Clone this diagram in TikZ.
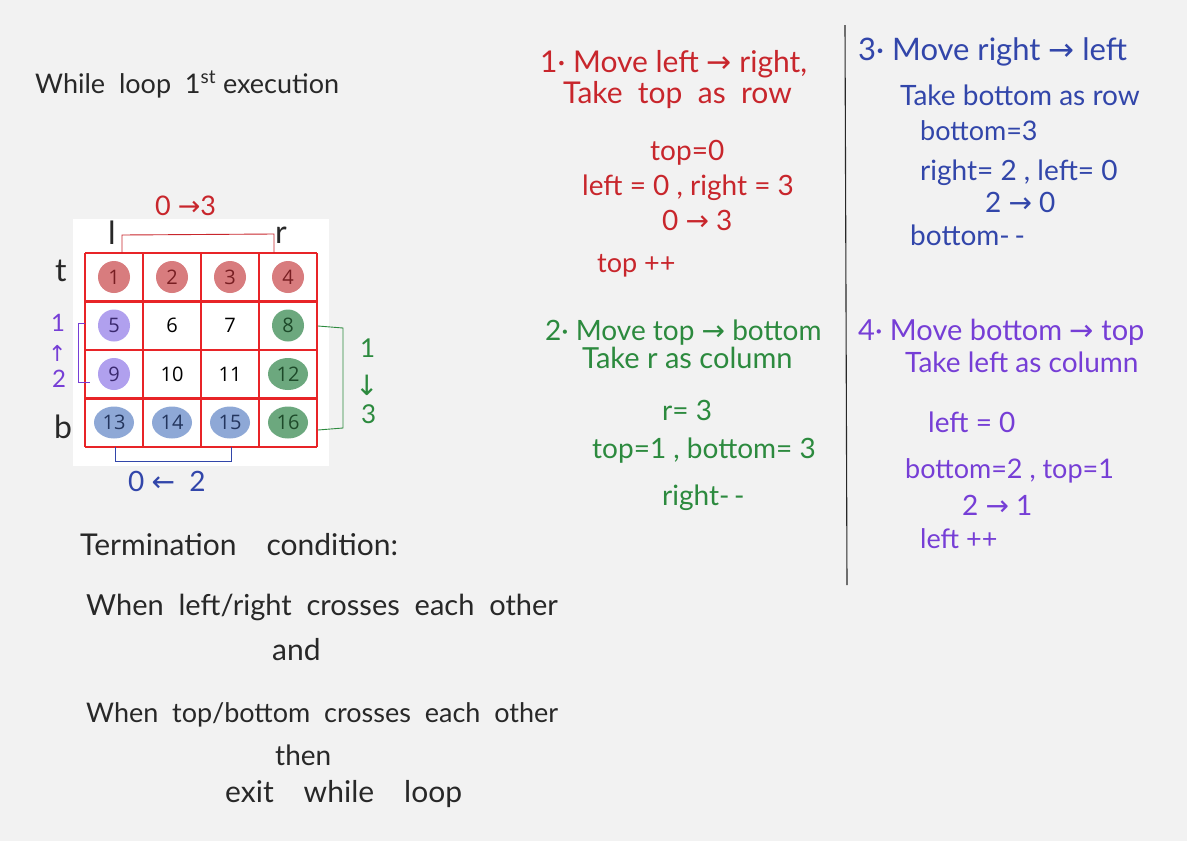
\documentclass[tikz,border=0pt]{standalone}
\usepackage{fontspec}
\setmainfont{Lato}
\newfontfamily\cellfont{Open Sans}
\newfontfamily\arrowfont{DejaVu Sans}
\newcommand{\ra}{{\arrowfont →}}
\newcommand{\la}{{\arrowfont ←}}
\usetikzlibrary{arrows.meta,calc,positioning}
\definecolor{PaperGray}{RGB}{242,242,242}
\definecolor{InkBlack}{RGB}{40,40,40}
\definecolor{InkRed}{RGB}{200,38,44}
\definecolor{InkGreen}{RGB}{44,138,62}
\definecolor{InkBlue}{RGB}{50,70,170}
\definecolor{InkPurple}{RGB}{118,62,214}
\definecolor{GridRed}{RGB}{232,36,40}
\definecolor{BlobRed}{RGB}{216,124,126}
\definecolor{BlobPurple}{RGB}{176,160,238}
\definecolor{BlobGreen}{RGB}{108,168,126}
\definecolor{BlobBlue}{RGB}{142,168,214}
\definecolor{NumRed}{RGB}{120,30,34}
\definecolor{NumPurple}{RGB}{58,40,110}
\definecolor{NumGreen}{RGB}{30,74,42}
\definecolor{NumBlue}{RGB}{36,54,94}

\tikzset{
	hand/.style={inner sep=0pt, anchor=base west, font=\fontsize{#1}{#1}\selectfont},
	hand/.default=28,
	cellnum/.style={inner sep=0pt, font=\cellfont\fontsize{20}{22}\selectfont},
	gridline/.style={GridRed, line width=2.2pt},
	bracket/.style={line width=0.9pt}
}

\begin{document}
\begin{tikzpicture}[x=1pt, y=-1pt]
	% papier
	\fill[PaperGray] (0,0) rectangle (1187,841);
	\useasboundingbox (0,0) rectangle (1187,841);
	% titel
	\node[hand=27, InkBlack] (title) at (35,93) {While\ \ loop\ \ 1\textsuperscript{st}\ execution};
	% matrix 4x4
	\fill[white] (73,219) rectangle (329,466);
	\foreach \n/\blob/\ink in {1/BlobRed/NumRed, 2/BlobRed/NumRed, 3/BlobRed/NumRed, 4/BlobRed/NumRed,
		5/BlobPurple/NumPurple, 6/white/black, 7/white/black, 8/BlobGreen/NumGreen,
		9/BlobPurple/NumPurple, 10/white/black, 11/white/black, 12/BlobGreen/NumGreen,
		13/BlobBlue/NumBlue, 14/BlobBlue/NumBlue, 15/BlobBlue/NumBlue, 16/BlobGreen/NumGreen}{
		\pgfmathtruncatemacro{\col}{mod(\n-1,4)}
		\pgfmathtruncatemacro{\row}{(\n-1)/4}
		\pgfmathsetmacro{\rx}{\n<10 ? 16 : 20}
		\coordinate (m\n) at ({114+58*\col},{277+48.5*\row});
		\fill[\blob] (m\n) ellipse [x radius=\rx pt, y radius=16pt];
		\node[cellnum, text=\ink] (n\n) at (m\n) {\n};
	}
	\foreach \i in {0,...,4}{
		\draw[gridline] ({85+58*\i},253) -- ({85+58*\i},447);
		\draw[gridline] (85,{253+48.5*\i}) -- (317,{253+48.5*\i});
	}
	% zeiger
	\node[hand=32, InkBlack] (tlab) at (55,281) {t};
	\node[hand=32, InkBlack] (blab) at (54,438) {b};
	\node[hand=32, InkBlack] (llab) at (108,244) {l};
	\node[hand=32, InkBlack] (rlab) at (275,243) {r};
	% oben: links nach rechts
	\coordinate (lEnd) at (122,253);
	\coordinate (lTop) at (122,235);
	\coordinate (rTop) at (274,234);
	\coordinate (rEnd) at (274,253);
	\draw[bracket, InkRed] (lEnd) -- (lTop) -- (rTop) -- (rEnd);
	\node[hand=27, InkRed] (topRange) at (155,215) {0 \ra3};
	% rechts: oben nach unten
	\coordinate (gTop) at (318,326);
	\coordinate (gTopR) at (343,328);
	\coordinate (gBotR) at (343,428);
	\coordinate (gBot) at (318,430);
	\draw[bracket, InkGreen] (gTop) -- (gTopR) -- (gBotR) -- (gBot);
	\node[hand=26, InkGreen] (gOne) at (360,357) {1};
	\node[hand=28, InkGreen] (gArr) at (355,395) {\arrowfont ↓};
	\node[hand=26, InkGreen] (gThree) at (361,423) {3};
	% unten: rechts nach links
	\coordinate (bL) at (115,447);
	\coordinate (bLB) at (115,461);
	\coordinate (bRB) at (231,461);
	\coordinate (bR) at (231,447);
	\draw[bracket, InkBlue] (bL) -- (bLB) -- (bRB) -- (bR);
	\node[hand, InkBlue] (botRange) at (128,491) {0\ \la\ \ 2};
	% links: unten nach oben
	\coordinate (pTop) at (85,323);
	\coordinate (pTopL) at (78,323);
	\coordinate (pBotL) at (78,382);
	\coordinate (pBot) at (90,382);
	\draw[bracket, InkPurple] (pTop) -- (pTopL) -- (pBotL) -- (pBot);
	\node[hand=24, InkPurple] (pOne) at (51,331) {1};
	\node[hand=22, InkPurple] (pArr) at (48,361) {\arrowfont ↑};
	\node[hand=24, InkPurple] (pTwo) at (52,387) {2};
	% abbruch
	\node[hand=30, InkBlack] (term) at (80,555) {Termination\quad condition:};
	\node[hand=29, InkBlack] (condA) at (86,615) {When\ \ left/right\ \ crosses\ \ each\ \ other};
	\node[hand=30, InkBlack] (condAnd) at (272,660) {and};
	\node[hand=27, InkBlack] (condB) at (86,722) {When\ \ top/bottom\ \ crosses\ \ each\ \ other};
	\node[hand=28, InkBlack] (condThen) at (275,765) {then};
	\node[hand=30, InkBlack] (condExit) at (225,802) {exit\quad while\quad loop};
	% schritt 1
	\node[hand=30, InkRed] (s1a) at (540,72) {1· Move\ left \ra\ right,};
	\node[hand=30, InkRed] (s1b) at (563,103) {Take\ \ top\ \ as\ \ row};
	\node[hand, InkRed] (s1c) at (650,160) {top=0};
	\node[hand, InkRed] (s1d) at (582,195) {left = 0 , right = 3};
	\node[hand, InkRed] (s1e) at (662,230) {0 \ra\ 3};
	\node[hand=27, InkRed] (s1f) at (597,272) {top ++};
	% schritt 2
	\node[hand=28, InkGreen] (s2a) at (545,340) {2· Move\ top \ra\ bottom};
	\node[hand=29, InkGreen] (s2b) at (582,368) {Take\ r\ as\ column};
	\node[hand, InkGreen] (s2c) at (662,420) {r= 3};
	\node[hand, InkGreen] (s2d) at (592,458) {top=1 , bottom= 3};
	\node[hand, InkGreen] (s2e) at (662,505) {right-\,-};
	% trennlinie
	\coordinate (divTop) at (845,25);
	\coordinate (divMid) at (846,300);
	\coordinate (divBot) at (847,585);
	\draw[InkBlack, line width=1.1pt] (divTop) -- (divMid) -- (divBot);
	% schritt 3
	\node[hand=31, InkBlue] (s3a) at (858,60) {3· Move\ right \ra\ left};
	\node[hand=28, InkBlue] (s3b) at (900,105) {Take\ bottom\ as\ row};
	\node[hand=27, InkBlue] (s3c) at (920,140) {bottom=3};
	\node[hand, InkBlue] (s3d) at (920,180) {right= 2 , left= 0};
	\node[hand, InkBlue] (s3e) at (985,212) {2 \ra\ 0};
	\node[hand, InkBlue] (s3f) at (910,245) {bottom-\,-};
	% schritt 4
	\node[hand=29, InkPurple] (s4a) at (858,340) {4· Move\ bottom \ra\ top};
	\node[hand=28, InkPurple] (s4b) at (905,372) {Take\ left\ as\ column};
	\node[hand, InkPurple] (s4c) at (928,432) {left = 0};
	\node[hand=27, InkPurple] (s4d) at (905,478) {bottom=2 , top=1};
	\node[hand, InkPurple] (s4e) at (962,515) {2 \ra\ 1};
	\node[hand=27, InkPurple] (s4f) at (920,548) {left ++};
\end{tikzpicture}
\end{document}
